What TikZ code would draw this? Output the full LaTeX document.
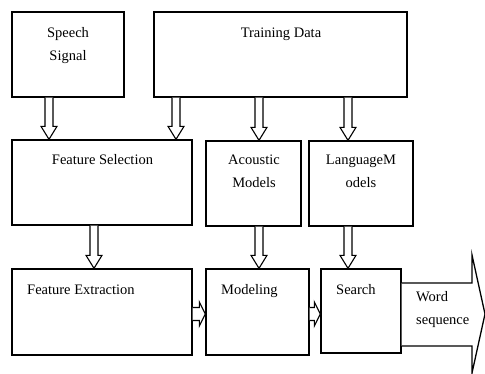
\documentclass[tikz,border=0pt]{standalone}
\usepackage{fontspec}
\setmainfont{Liberation Serif}
\usetikzlibrary{calc}
\tikzset{
  box/.style={draw, line width=1.3pt, inner sep=0pt, minimum width=#1},
  harrow/.style={draw, line width=1.1pt, fill=white, line join=miter},
  txt/.style={inner sep=0pt, font=\fontsize{14.5}{23}\selectfont, align=center},
}
\newcommand\hdown[3]{\draw[harrow] let \p1=(#2.south), \p2=(#3.north) in
  (#1-4,\y1) -- (#1-4,\y2+13) -- (#1-8,\y2+13) -- (#1,\y2) -- (#1+8,\y2+13) -- (#1+4,\y2+13) -- (#1+4,\y1);}
\newcommand\hright[3]{\draw[harrow] let \p1=(#1.east), \p2=(#2.west) in
  (\x1,#3+6.5) -- (\x2-6,#3+6.5) -- (\x2-6,#3+12) -- (\x2,#3) -- (\x2-6,#3-12) -- (\x2-6,#3-6.5) -- (\x1,#3-6.5);}
\begin{document}
\begin{tikzpicture}[x=1pt,y=1pt]
\useasboundingbox (0,0) rectangle (485,374);
% boxes
\node[box=112pt, minimum height=85pt] (ss) at (68,319.5) {};
\node[box=253pt, minimum height=85pt] (td) at (280.5,319.5) {};
\node[box=180pt, minimum height=85pt] (fs) at (102,191.5) {};
\node[box=95pt, minimum height=85pt] (am) at (253.5,190.5) {};
\node[box=104pt, minimum height=85pt] (lm) at (361,190.5) {};
\node[box=180pt, minimum height=86pt] (fe) at (102,62) {};
\node[box=103pt, minimum height=86pt] (mo) at (257.5,62) {};
\node[box=80pt, minimum height=84pt] (se) at (361,63) {};
% texts (base = last line)
\node[txt, anchor=base] (t1) at (68,313) {Speech\\Signal};
\node[txt, anchor=base] (t2) at (281,336) {Training Data};
\node[txt, anchor=base] (t3) at (102.5,209) {Feature Selection};
\node[txt, anchor=base] (t4) at (254,186) {Acoustic\\Models};
\node[txt, anchor=base] (t5) at (361,186) {LanguageM\\odels};
\node[txt, anchor=base west] (t6) at (27,79) {Feature Extraction};
\node[txt, anchor=base west] (t7) at (221,79) {Modeling};
\node[txt, anchor=base west] (t8) at (336,79) {Search};
% vertical arrows
\hdown{49}{ss}{fs}
\hdown{176}{td}{fs}
\hdown{259}{td}{am}
\hdown{348}{td}{lm}
\hdown{94}{fs}{fe}
\hdown{259}{am}{mo}
\hdown{348}{lm}{se}
% horizontal arrows
\hright{fe}{mo}{60}
\hright{mo}{se}{60}
% output arrow
\coordinate (tip) at (485,60);
\draw[harrow, line width=1.3pt] let \p1=(se.east) in
  (\x1,91) -- (472,91) -- (472,119) -- (tip) -- (472,1) -- (472,28) -- (\x1,28);
\node[txt, anchor=base west, align=left] (t9) at (416,49) {Word\\sequence};
\end{tikzpicture}
\end{document}
